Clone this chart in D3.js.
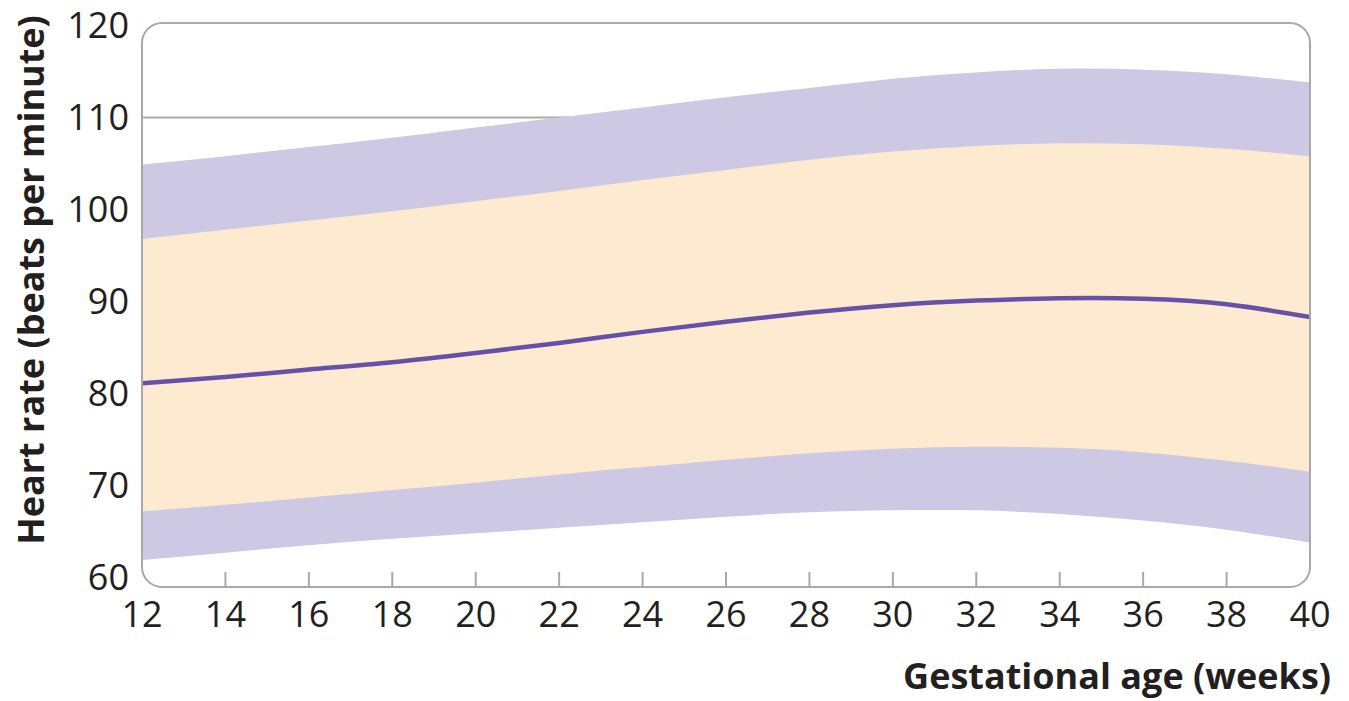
<!DOCTYPE html>
<html>
<head>
<meta charset="utf-8">
<script src="https://cdn.jsdelivr.net/npm/d3@7"></script>
<style>
  html, body { margin: 0; padding: 0; background: #fff; }
  svg { display: block; }
</style>
</head>
<body>
<svg id="chart" width="1349" height="701"></svg>
<script>
// ---- data ----
const weeks      = [12, 14, 16, 18, 20, 22, 24, 26, 28, 30, 32, 34, 36, 38, 40];
const outerUpper = [104.9, 105.8, 106.8, 107.8, 108.9, 110.0, 111.1, 112.2, 113.2, 114.2, 114.9, 115.3, 115.2, 114.7, 113.8];
const innerUpper = [96.8, 97.8, 98.8, 99.8, 100.9, 102.0, 103.2, 104.3, 105.4, 106.3, 106.9, 107.2, 107.1, 106.6, 105.8];
const median     = [81.1, 81.8, 82.6, 83.4, 84.4, 85.5, 86.7, 87.8, 88.8, 89.6, 90.1, 90.35, 90.3, 89.7, 88.3];
const innerLower = [67.2, 67.9, 68.7, 69.5, 70.3, 71.2, 72.0, 72.8, 73.5, 74.0, 74.2, 74.1, 73.6, 72.7, 71.5];
const outerLower = [61.9, 62.7, 63.5, 64.2, 64.8, 65.4, 66.0, 66.6, 67.1, 67.3, 67.3, 66.9, 66.2, 65.2, 63.8];
const xTicks = [12, 14, 16, 18, 20, 22, 24, 26, 28, 30, 32, 34, 36, 38, 40];
const yTicks = [60, 70, 80, 90, 100, 110, 120];
const gridTicks = [70, 80, 90, 100, 110];
const xTitle = "Gestational age (weeks)";
const yTitle = "Heart rate (beats per minute)";

// ---- layout ----
const svg = d3.select("#chart");
const x = d3.scaleLinear().domain([12, 40]).range([142, 1310]);
const y = d3.scaleLinear().domain([60, 120]).range([577.5, 25.5]);
const boxTop = 23, boxBottom = 587;
const grey = "#a9a9ab";
const font = "'Open Sans', 'Noto Sans', sans-serif";
const textColor = "#231f20";

const rows = weeks.map((w, i) => ({
  w, ou: outerUpper[i], iu: innerUpper[i], m: median[i], il: innerLower[i], ol: outerLower[i]
}));

// clip to rounded box
svg.append("defs").append("clipPath").attr("id", "box")
  .append("rect")
  .attr("x", x(12)).attr("y", boxTop)
  .attr("width", x(40) - x(12)).attr("height", boxBottom - boxTop)
  .attr("rx", 20).attr("ry", 20);

const plot = svg.append("g").attr("clip-path", "url(#box)");

// gridlines
plot.selectAll("line.grid").data(gridTicks).join("line")
  .attr("class", "grid")
  .attr("x1", x(12)).attr("x2", x(40))
  .attr("y1", d => y(d)).attr("y2", d => y(d))
  .attr("stroke", grey).attr("stroke-width", 2);

const curve = d3.curveNatural;

// outer band
plot.append("path").datum(rows)
  .attr("fill", "#cdc8e4")
  .attr("d", d3.area().curve(curve).x(d => x(d.w)).y0(d => y(d.ol)).y1(d => y(d.ou)));

// inner band
plot.append("path").datum(rows)
  .attr("fill", "#fdead0")
  .attr("d", d3.area().curve(curve).x(d => x(d.w)).y0(d => y(d.il)).y1(d => y(d.iu)));

// median line
plot.append("path").datum(rows)
  .attr("fill", "none")
  .attr("stroke", "#6551a8")
  .attr("stroke-width", 4.5)
  .attr("d", d3.line().curve(curve).x(d => x(d.w)).y(d => y(d.m)));

// box border
svg.append("rect")
  .attr("x", x(12)).attr("y", boxTop)
  .attr("width", x(40) - x(12)).attr("height", boxBottom - boxTop)
  .attr("rx", 20).attr("ry", 20)
  .attr("fill", "none").attr("stroke", grey).attr("stroke-width", 2);

// x ticks (inward, interior only)
svg.selectAll("line.xtick").data(xTicks.filter(t => t > 12 && t < 40)).join("line")
  .attr("class", "xtick")
  .attr("x1", d => x(d)).attr("x2", d => x(d))
  .attr("y1", boxBottom).attr("y2", boxBottom - 15)
  .attr("stroke", grey).attr("stroke-width", 2);

// x tick labels
svg.selectAll("text.xl").data(xTicks).join("text")
  .attr("class", "xl")
  .attr("x", d => x(d)).attr("y", 627)
  .attr("text-anchor", "middle")
  .attr("font-family", font).attr("font-size", 36)
  .attr("fill", textColor)
  .text(d => d);

// y tick labels
svg.selectAll("text.yl").data(yTicks).join("text")
  .attr("class", "yl")
  .attr("x", 129).attr("y", d => y(d))
  .attr("dy", "0.36em")
  .attr("text-anchor", "end")
  .attr("font-family", font).attr("font-size", 36)
  .attr("fill", textColor)
  .text(d => d);

// axis titles
svg.append("text")
  .attr("x", 1331).attr("y", 689)
  .attr("text-anchor", "end")
  .attr("font-family", font).attr("font-size", 36).attr("font-weight", 700)
  .attr("fill", textColor)
  .text(xTitle);

svg.append("text")
  .attr("transform", "translate(44,280) rotate(-90)")
  .attr("text-anchor", "middle")
  .attr("font-family", font).attr("font-size", 36).attr("font-weight", 700)
  .attr("fill", textColor)
  .text(yTitle);
</script>
</body>
</html>
